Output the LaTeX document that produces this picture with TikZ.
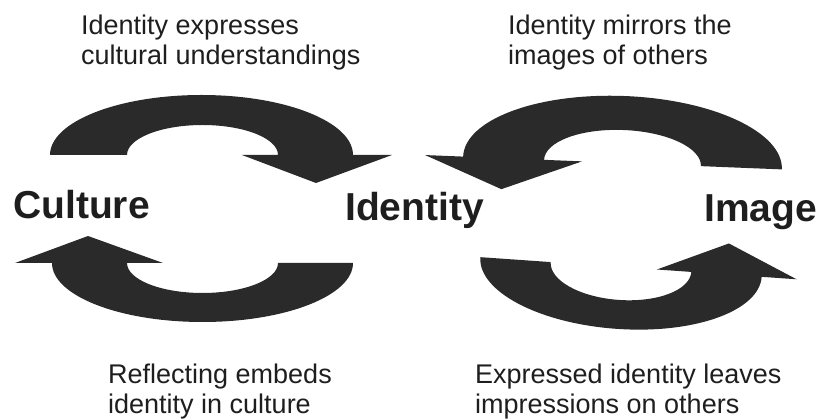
\documentclass[tikz,border=0pt]{standalone}
\usepackage{fontspec}
\setmainfont{Liberation Sans}
\definecolor{arrowgray}{HTML}{2A2A2A}
\definecolor{textgray}{HTML}{1E1E1E}
\begin{document}
\begin{tikzpicture}[x=1pt,y=1pt,
  band/.style={fill=arrowgray,draw=none},
  bigword/.style={font=\fontsize{39}{44}\selectfont\bfseries,text=textgray,inner sep=0pt,anchor=base west},
  caption/.style={font=\fontsize{27}{30}\selectfont,text=textgray,inner sep=0pt,anchor=base west,align=left}]
\useasboundingbox (0,0) rectangle (825,420);
% top-left arrow (Culture -> Identity)
\fill[band] (50,265) arc[start angle=180,end angle=0,x radius=151.5,y radius=60]
  -- (392,265) -- (316,237) -- (242,265) -- (278,265)
  arc[start angle=0,end angle=180,x radius=75.5,y radius=30] -- cycle;
% bottom-left arrow (Identity -> Culture)
\fill[band] (353,157) arc[start angle=0,end angle=-180,x radius=150.5,y radius=59]
  -- (15,157) -- (88,184) -- (163,157) -- (127,157)
  arc[start angle=180,end angle=360,x radius=75.5,y radius=30] -- cycle;
% top-right arrow (Image -> Identity)
\begin{scope}[shift={(622.5,257)},rotate=-2.3]
\fill[band] (159.5,0) arc[start angle=0,end angle=180,x radius=159.5,y radius=67]
  -- (-197.5,0) -- (-120,-31) -- (-40.5,0) -- (-78.5,0)
  arc[start angle=180,end angle=0,x radius=78.5,y radius=33] -- cycle;
\end{scope}
% bottom-right arrow (Identity -> Image)
\begin{scope}[shift={(621,153)},rotate=-4]
\fill[band] (-141,0) arc[start angle=180,end angle=360,x radius=141,y radius=62]
  -- (176,0) -- (106,31) -- (36,0) -- (70.5,0)
  arc[start angle=0,end angle=-180,x radius=70.5,y radius=33] -- cycle;
\end{scope}
% words
\node[bigword] (culture) at (13,201) {Culture};
\node[bigword] (identity) at (345,199) {Identity};
\node[bigword] (image) at (704,198) {Image};
% captions (anchor = baseline of last line)
\node[caption] (c1) at (81,355) {Identity expresses\\cultural understandings};
\node[caption] (c2) at (508,355) {Identity mirrors the\\images of others};
\node[caption] (c3) at (108,6) {Reflecting embeds\\identity in culture};
\node[caption] (c4) at (475,6) {Expressed identity leaves\\impressions on others};
\end{tikzpicture}
\end{document}
